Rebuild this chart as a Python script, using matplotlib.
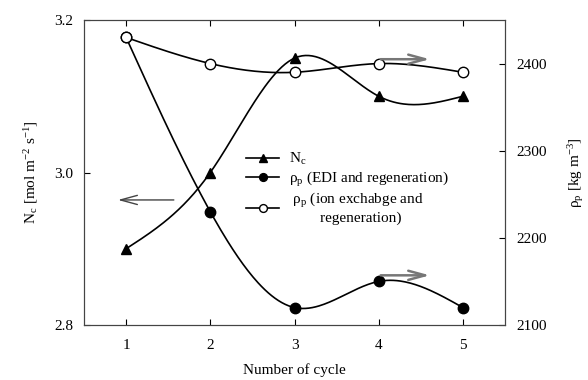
import numpy as np
import matplotlib.pyplot as plt

plt.rcParams['font.family'] = ['Liberation Serif', 'DejaVu Serif']
plt.rcParams['mathtext.fontset'] = 'custom'
plt.rcParams['mathtext.rm'] = 'Liberation Serif'
plt.rcParams['mathtext.it'] = 'Liberation Serif'
plt.rcParams['font.size'] = 11

cycles = [1, 2, 3, 4, 5]
nc = [2.90, 3.00, 3.15, 3.10, 3.10]
rho_edi = [2430, 2230, 2120, 2150, 2120]
rho_ion = [2430, 2400, 2390, 2400, 2390]


def spline(x, y, n=200):
    # natural cubic spline through the points, for the smooth connecting line
    x = np.asarray(x, float)
    y = np.asarray(y, float)
    k = len(x)
    h = np.diff(x)
    A = np.zeros((k, k))
    b = np.zeros(k)
    A[0, 0] = A[-1, -1] = 1
    for i in range(1, k - 1):
        A[i, i - 1] = h[i - 1]
        A[i, i] = 2 * (h[i - 1] + h[i])
        A[i, i + 1] = h[i]
        b[i] = 6 * ((y[i + 1] - y[i]) / h[i] - (y[i] - y[i - 1]) / h[i - 1])
    m = np.linalg.solve(A, b)
    xs = np.linspace(x[0], x[-1], n)
    idx = np.clip(np.searchsorted(x, xs) - 1, 0, k - 2)
    t = xs - x[idx]
    hi = h[idx]
    a = y[idx]
    bb = (y[idx + 1] - y[idx]) / hi - hi * (2 * m[idx] + m[idx + 1]) / 6
    c = m[idx] / 2
    d = (m[idx + 1] - m[idx]) / (6 * hi)
    return xs, a + bb * t + c * t ** 2 + d * t ** 3


fig = plt.figure(figsize=(5.88, 3.8), dpi=100)
ax = fig.add_axes([84 / 588, 55 / 380, 421 / 588, 305 / 380])
ax2 = ax.twinx()

ms = 7.5
xs, ys = spline(cycles, nc)
ax.plot(xs, ys, color='black', lw=1.2)
ax.plot(cycles, nc, '^', color='black', ms=ms)
l1, = ax.plot([], [], '-', color='black', lw=1.2, marker='^', ms=ms,
              label=r'N$_\mathregular{c}$')

xs, ys = spline(cycles, rho_edi)
ax2.plot(xs, ys, color='black', lw=1.2)
ax2.plot(cycles, rho_edi, 'o', color='black', ms=ms)
l2, = ax2.plot([], [], '-', color='black', lw=1.2, marker='o', ms=ms,
               label=r'$\rho_\mathregular{p}$ (EDI and regeneration)')

xs, ys = spline(cycles, rho_ion)
ax2.plot(xs, ys, color='black', lw=1.2)
ax2.plot(cycles, rho_ion, 'o', color='black', ms=ms, mfc='white', mec='black')
l3, = ax2.plot([], [], '-', color='black', lw=1.2, marker='o', ms=ms, mfc='white',
               mec='black', label=' $\\rho_\\mathregular{p}$ (ion exchabge and\n        regeneration)')

ax.set_xlim(0.5, 5.5)
ax.set_ylim(2.8, 3.2)
ax2.set_ylim(2100, 2450)
ax.set_xticks(cycles)
ax.set_yticks([2.8, 3.0, 3.2])
ax.set_yticklabels(['2.8', '3.0', '3.2'])
ax2.set_yticks([2100, 2200, 2300, 2400])
ax.tick_params(direction='in', length=4, top=True, pad=8)
ax.tick_params(axis='x', pad=10)
ax2.tick_params(direction='in', length=4, pad=8)
for a in (ax, ax2):
    for s in a.spines.values():
        s.set_color('#444444')

ax.set_xlabel('Number of cycle', labelpad=8)
ax.set_ylabel(r'N$_\mathregular{c}$ [mol m$^\mathregular{-2}$ s$^\mathregular{-1}$]', labelpad=10)
ax2.set_ylabel(r'$\rho_\mathregular{p}$ [kg m$^\mathregular{-3}$]', rotation=90, labelpad=14)

# direction arrows pointing to the axis each curve belongs to
head = '->,head_length=1.1,head_width=0.3'
ax.annotate('', xy=(0.87, 2.964), xytext=(1.6, 2.964),
            arrowprops=dict(arrowstyle=head, color='#444444', lw=1))
for yv in (2405, 2157):
    ax2.annotate('', xy=(4.64, yv), xytext=(3.99, yv),
                 arrowprops=dict(arrowstyle=head, color='#777777', lw=1.8))

ax2.legend(handles=[l1, l2, l3], loc='upper left', bbox_to_anchor=(0.37, 0.59),
           frameon=False, handlelength=2.2, handletextpad=0.6, labelspacing=0.15,
           borderaxespad=0, fontsize=11, markerscale=0.75)

fig.savefig('out.png', dpi=100)
